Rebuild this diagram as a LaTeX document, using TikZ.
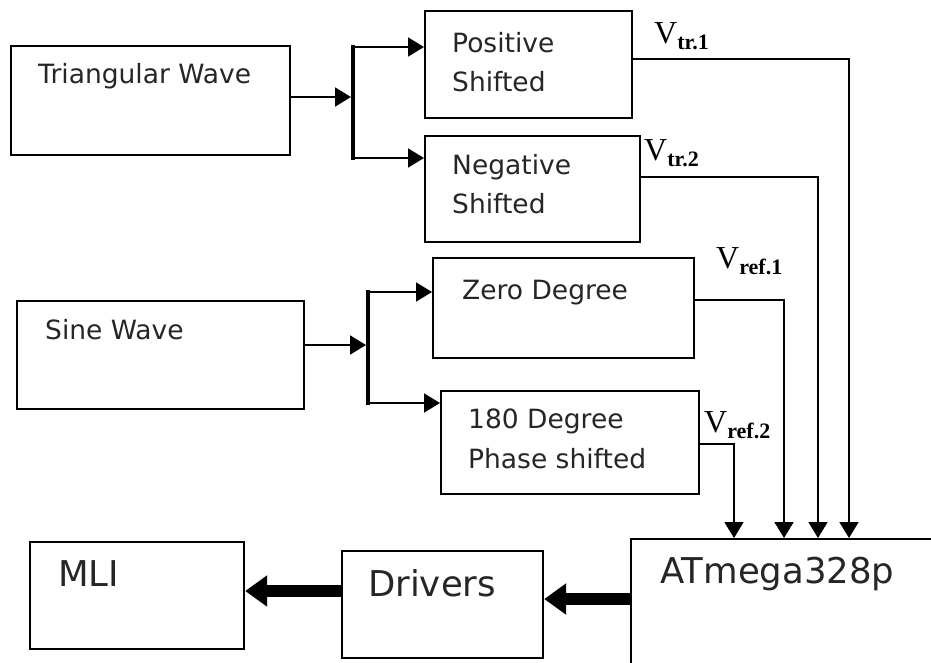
\documentclass[tikz,border=0pt]{standalone}
\usepackage[no-math]{fontspec}
\setmainfont{DejaVu Sans}
\newfontfamily\vfont{Liberation Serif}
\usetikzlibrary{arrows.meta,calc}
\newcommand{\vsig}[1]{{\vfont\fontsize{32}{38}\selectfont V\raisebox{-6pt}{\fontsize{22}{26}\selectfont\bfseries #1}}}
\begin{document}
\begin{tikzpicture}[x=1pt,y=-1pt,
  box/.style={draw, line width=2.2pt, inner sep=0pt, anchor=north west},
  lab/.style={anchor=base west, inner sep=0pt, font=\fontsize{26.5}{32}\selectfont, text=black!85},
  big/.style={anchor=base west, inner sep=0pt, font=\fontsize{35.5}{42}\selectfont, text=black!85},
  vlab/.style={anchor=base west, inner sep=0pt},
  arr/.style={line width=1.8pt, -{Triangle[length=16pt,width=19pt]}},
  bar/.style={line width=4.5pt},
  fat/.style={line width=12pt, -{Triangle[length=22pt,width=30pt]}}
]
\clip (0,0) rectangle (931,662);
\fill[white] (0,0) rectangle (931,662);

% boxes
\node[box, minimum width=279pt, minimum height=109pt] (tri) at (10,45) {};
\node[box, minimum width=207pt, minimum height=107pt] (pos) at (424,10) {};
\node[box, minimum width=215pt, minimum height=106pt] (neg) at (424,135) {};
\node[box, minimum width=287pt, minimum height=108pt] (sine) at (16,300) {};
\node[box, minimum width=261pt, minimum height=100pt] (zero) at (432,257) {};
\node[box, minimum width=258pt, minimum height=103pt] (oneeighty) at (440,390) {};
\node[box, minimum width=214pt, minimum height=107pt] (mli) at (29,541) {};
\node[box, minimum width=201pt, minimum height=107pt] (drv) at (341,550) {};
\node[box, minimum width=320pt, minimum height=140pt] (atm) at (630,538) {};

% texts
\node[lab] (ttri) at (38,83) {Triangular Wave};
\node[lab] (tpos1) at (452,52) {Positive};
\node[lab] (tpos2) at (452,91) {Shifted};
\node[lab] (tneg1) at (452,174) {Negative};
\node[lab] (tneg2) at (452,213) {Shifted};
\node[lab] (tsine) at (45,339) {Sine Wave};
\node[lab] (tzero) at (462,299) {Zero Degree};
\node[lab] (t1801) at (468,428) {180 Degree};
\node[lab] (t1802) at (468,468) {Phase shifted};
\node[big] (tmli) at (58,586) {MLI};
\node[big] (tdrv) at (368,596) {Drivers};
\node[big] (tatm) at (660,583) {ATmega328p};

% voltage labels
\node[vlab] (vtr1) at (654,43) {\vsig{tr.1}};
\node[vlab] (vtr2) at (644,160) {\vsig{tr.2}};
\node[vlab] (vref1) at (716,268) {\vsig{ref.1}};
\node[vlab] (vref2) at (704,432) {\vsig{ref.2}};

% triangular wave branch
\coordinate (tb) at (353,97);
\coordinate (tbt) at (353,47);
\coordinate (tbb) at (353,158);
\draw[bar] ($(tbt)+(0,-2)$) -- ($(tbb)+(0,2)$);
\draw[arr, shorten >=2pt] (tri.east |- tb) -- (tb);
\draw[arr] (tbt) -- (pos.west |- tbt);
\draw[arr] (tbb) -- (neg.west |- tbb);

% sine wave branch
\coordinate (sb) at (368,345);
\coordinate (sbt) at (368,292);
\coordinate (sbb) at (368,403);
\draw[bar] ($(sbt)+(0,-2)$) -- ($(sbb)+(0,2)$);
\draw[arr, shorten >=2pt] (sine.east |- sb) -- (sb);
\draw[arr] (sbt) -- (zero.west |- sbt);
\draw[arr] (sbb) -- (oneeighty.west |- sbb);

% outputs to microcontroller
\coordinate (o1) at (849,59);
\coordinate (o2) at (818,177);
\coordinate (o3) at (784,300);
\coordinate (o4) at (734,444);
\draw[arr] (pos.east |- o1) -| (atm.north -| o1);
\draw[arr] (neg.east |- o2) -| (atm.north -| o2);
\draw[arr] (zero.east |- o3) -| (atm.north -| o3);
\draw[arr] (oneeighty.east |- o4) -| (atm.north -| o4);

% thick arrows
\coordinate (fa) at (0,591);
\coordinate (fb) at (0,599);
\draw[fat] (atm.west |- fb) -- (drv.east |- fb);
\draw[fat] (drv.west |- fa) -- (mli.east |- fa);
\end{tikzpicture}
\end{document}
